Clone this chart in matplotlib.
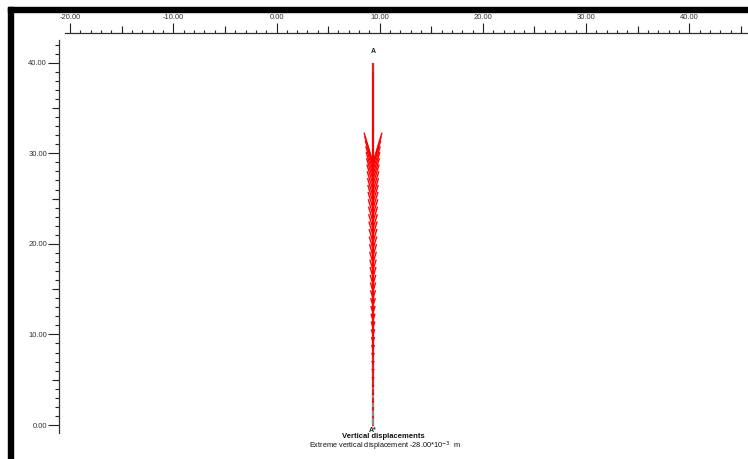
import numpy as np
import matplotlib
matplotlib.use('Agg')
import matplotlib.pyplot as plt
from matplotlib.collections import LineCollection
from matplotlib.patches import Rectangle
from matplotlib.ticker import FixedLocator, FormatStrFormatter, NullFormatter, NullLocator

plt.rcParams['font.family'] = ['Liberation Sans', 'DejaVu Sans']

# ---- data ----
node_y = [40, 39, 38, 37, 36, 35, 34, 33, 32, 31, 30, 29, 28, 27, 26, 25, 24, 23, 22, 21,
          20, 19, 18, 17, 16, 15, 14, 13, 12, 11, 10, 9, 8, 7, 6, 5, 4, 3, 2, 1, 0]
disp_mm = [-28.0, -25.8, -24.0, -22.6, -21.3, -20.1, -19.0, -18.1, -17.2, -16.3,
           -15.5, -14.8, -14.1, -13.5, -12.8, -12.2, -11.6, -11.0, -10.4, -9.9,
           -9.3, -8.8, -8.2, -7.7, -7.2, -6.7, -6.2, -5.7, -5.2, -4.7,
           -4.2, -3.7, -3.3, -2.9, -2.5, -2.1, -1.7, -1.3, -0.9, -0.5, -0.25]
section_x = 9.35
x_major = [-20, -10, 0, 10, 20, 30, 40]
x_medium = [-15, -5, 5, 15, 25, 35, 45]
x_minor = list(range(-20, 46))
y_major = [0, 10, 20, 30, 40]
y_medium = [5, 15, 25, 35]
y_minor = list(range(0, 43))
extreme_disp = -28.00

W, H = 748, 459
fig = plt.figure(figsize=(W / 100, H / 100), dpi=100)
fig.patch.set_facecolor('white')

# black frame on top and left
fig.patches.append(Rectangle((8 / W, (H - 12) / H), (W - 8) / W, 5 / H,
                             transform=fig.transFigure, color='black', zorder=10))
fig.patches.append(Rectangle((8 / W, 0), 5 / W, (H - 7) / H,
                             transform=fig.transFigure, color='black', zorder=10))

ax = fig.add_axes([59 / W, 26 / H, 689 / W, 400 / H])
ax.set_xlim(-21.08, 45.69)
ax.set_ylim(-0.883, 43.28)
ax.set_facecolor('white')

for s in ['right', 'bottom']:
    ax.spines[s].set_visible(False)
ax.spines['top'].set_bounds(-20.5, 45.69)
ax.spines['left'].set_bounds(-0.883, 42.5)
for s in ['top', 'left']:
    ax.spines[s].set_color('#333333')
    ax.spines[s].set_linewidth(0.9)

tick_col = '#222222'
lab_col = '#333333'
ax.xaxis.tick_top()
ax.xaxis.set_major_locator(FixedLocator(x_major))
ax.xaxis.set_minor_locator(FixedLocator(x_minor))
ax.xaxis.set_major_formatter(FormatStrFormatter('%.2f'))
ax.yaxis.set_major_locator(FixedLocator(y_major))
ax.yaxis.set_minor_locator(FixedLocator(y_minor))
ax.yaxis.set_major_formatter(FormatStrFormatter('%.2f'))
ax.tick_params(axis='x', which='major', direction='out', length=7.2, width=0.8,
               color=tick_col, labelsize=5.5, labelcolor=lab_col, pad=1.2)
ax.tick_params(axis='x', which='minor', direction='out', length=2.4, width=0.8, color=tick_col)
ax.tick_params(axis='y', which='major', direction='out', length=7.9, width=0.8,
               color=tick_col, labelsize=5.5, labelcolor=lab_col, pad=0.8)
ax.tick_params(axis='y', which='minor', direction='out', length=2.9, width=0.8, color=tick_col)

secx = ax.secondary_xaxis('top')
secx.xaxis.set_major_locator(FixedLocator(x_medium))
secx.xaxis.set_minor_locator(NullLocator())
secx.xaxis.set_major_formatter(NullFormatter())
secx.tick_params(axis='x', which='major', direction='out', length=4.8, width=0.8, color=tick_col)
for sp in secx.spines.values():
    sp.set_visible(False)

secy = ax.secondary_yaxis('left')
secy.yaxis.set_major_locator(FixedLocator(y_medium))
secy.yaxis.set_minor_locator(NullLocator())
secy.yaxis.set_major_formatter(NullFormatter())
secy.tick_params(axis='y', which='major', direction='out', length=5.0, width=0.8, color=tick_col)
for sp in secy.spines.values():
    sp.set_visible(False)

# geometry line of the cross section
ax.plot([section_x - 0.04, section_x - 0.04], [min(node_y), max(node_y)],
        color='#8c8c8c', lw=1.7, solid_capstyle='butt', zorder=2)

# displacement arrows (tail at node, pointing in direction of displacement)
ys = np.array(node_y, dtype=float)
u = np.array(disp_mm, dtype=float)
scale = 11.03 / abs(extreme_disp)   # y-units per mm
L = u * scale                        # signed length (negative = downwards)
tips = ys + L
hl = 0.3 * np.abs(L)
hw = 0.079 * np.abs(L)
shafts = [[(section_x, y0), (section_x, t)] for y0, t in zip(ys, tips)]
barbs = [[(section_x - w, t + h), (section_x, t), (section_x + w, t + h)]
         for t, h, w in zip(tips, hl, hw)]
ax.add_collection(LineCollection(shafts, colors='#ff0000', linewidths=1.1, zorder=3,
                                 capstyle='butt'))
ax.add_collection(LineCollection(barbs, colors='#ff0000', linewidths=1.0, zorder=3))

ax.text(section_x, 41.2, 'A', ha='center', va='center', fontsize=5, fontweight='bold',
        color='#222222')
ax.text(section_x, -0.66, 'A*', ha='center', va='center', fontsize=5, fontweight='bold',
        color='#222222', clip_on=False)

fig.text(383 / W, (H - 437) / H, 'Vertical displacements', ha='center', va='center',
         fontsize=5.5, fontweight='bold', color='#111111')
fig.text(385 / W, (H - 446) / H,
         'Extreme vertical displacement %.2f*10$^{-3}$  m' % extreme_disp,
         ha='center', va='center', fontsize=5.3, color='#111111')

fig.savefig('out.png', dpi=100)
